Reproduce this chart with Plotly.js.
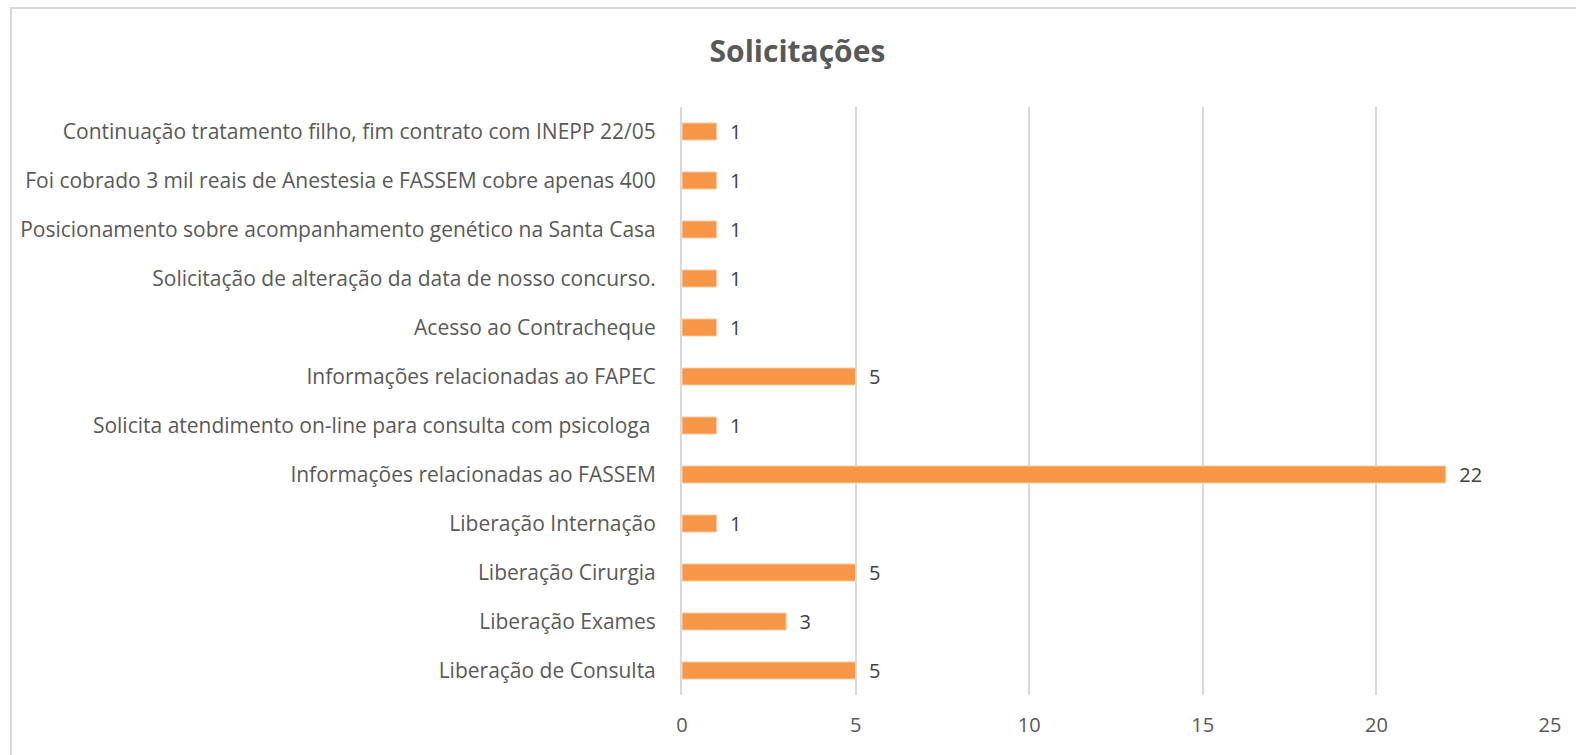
<!DOCTYPE html>
<html>
<head>
<meta charset="utf-8">
<script src="https://cdn.plot.ly/plotly-3.0.1.min.js"></script>
<style>
  html, body { margin: 0; padding: 0; background: #fff; }
  #wrap { position: relative; width: 1576px; height: 755px; overflow: hidden; }
  #chart { width: 1576px; height: 755px; }
  #frame { position: absolute; left: 10px; top: 7px; width: 1600px; height: 800px;
           border: 2px solid #d9d9d9; box-sizing: border-box; pointer-events: none; }
</style>
</head>
<body>
<div id="wrap">
  <div id="chart"></div>
  <div id="frame"></div>
</div>
<script>
const categories = [
  "Liberação de Consulta",
  "Liberação Exames",
  "Liberação Cirurgia",
  "Liberação Internação",
  "Informações relacionadas ao FASSEM",
  "Solicita atendimento on-line para consulta com psicologa ",
  "Informações relacionadas ao FAPEC",
  "Acesso ao Contracheque",
  "Solicitação de alteração da data de nosso concurso.",
  "Posicionamento sobre acompanhamento genético na Santa Casa",
  "Foi cobrado 3 mil reais de Anestesia e FASSEM cobre apenas 400",
  "Continuação tratamento filho, fim contrato com INEPP 22/05"
];
const values = [5, 3, 5, 1, 22, 1, 5, 1, 1, 1, 1, 1];
const xTicks = [0, 5, 10, 15, 20, 25];
const titleText = "Solicitações";

const FONT = "Open Sans, Noto Sans, sans-serif";

const trace = {
  type: "bar",
  orientation: "h",
  x: values,
  y: categories,
  marker: { color: "#F79646", line: { color: "#FAD3B2", width: 1 } },
  text: values.map(String),
  texttemplate: "  %{text}",
  textposition: "outside",
  constraintext: "none",
  cliponaxis: false,
  textfont: { family: FONT, size: 20, color: "#404040" },
  hoverinfo: "skip"
};

const layout = {
  width: 1576,
  height: 755,
  margin: { l: 682, r: 26, t: 107, b: 60 },
  paper_bgcolor: "#ffffff",
  plot_bgcolor: "#ffffff",
  bargap: 0.65,
  showlegend: false,
  title: {
    text: "<b>" + titleText + "</b>",
    font: { family: FONT, size: 30, color: "#595959" },
    xref: "container", x: 0.506, xanchor: "center",
    yref: "container", y: 0.932, yanchor: "middle"
  },
  xaxis: {
    range: [0, 25],
    tickvals: xTicks,
    ticktext: xTicks.map(String),
    showgrid: true,
    gridcolor: "#d9d9d9",
    gridwidth: 2,
    zeroline: false,
    showline: false,
    ticks: "",
    ticklen: 0,
    ticklabelstandoff: 16,
    tickfont: { family: FONT, size: 20, color: "#595959" },
    fixedrange: true
  },
  yaxis: {
    type: "category",
    categoryorder: "array",
    categoryarray: categories,
    showgrid: false,
    zeroline: false,
    showline: true,
    linecolor: "#d9d9d9",
    linewidth: 2,
    ticks: "",
    ticklabelstandoff: 20,
    tickfont: { family: FONT, size: 21, color: "#595959" },
    fixedrange: true
  }
};

Plotly.newPlot("chart", [trace], layout, { displayModeBar: false, staticPlot: true });
</script>
</body>
</html>
